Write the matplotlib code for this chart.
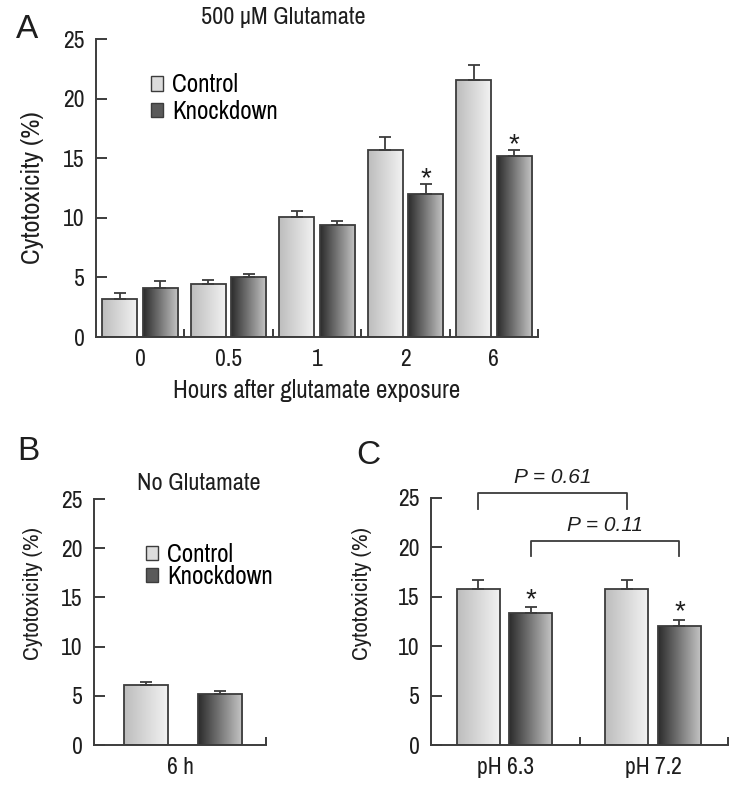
import matplotlib

matplotlib.use("Agg")
import matplotlib.pyplot as plt
import numpy as np
from matplotlib.colors import LinearSegmentedColormap
from matplotlib.patches import Patch

# (A) 500 uM glutamate, time course
a_hours = ["0", "0.5", "1", "2", "6"]
a_control = [3.2, 4.45, 10.1, 15.7, 21.6]
a_control_err = [0.5, 0.3, 0.5, 1.05, 1.25]
a_knockdown = [4.15, 5.0, 9.4, 12.0, 15.2]
a_knockdown_err = [0.55, 0.3, 0.3, 0.85, 0.5]
a_signif = [False, False, False, True, True]

# (B) no glutamate
b_labels = ["6 h"]
b_control = [6.1]
b_control_err = [0.27]
b_knockdown = [5.15]
b_knockdown_err = [0.35]

# (C) pH
c_labels = ["pH 6.3", "pH 7.2"]
c_control = [15.8, 15.8]
c_control_err = [0.9, 0.9]
c_knockdown = [13.4, 12.0]
c_knockdown_err = [0.58, 0.7]
c_signif = [True, True]
c_pvalues = ["P = 0.61", "P = 0.11"]

W, H = 741, 789
AXIS = "#3c3c3c"
TEXT = "#1e1e1e"
# the original uses a narrow Helvetica
plt.rcParams["font.family"] = ["Archivo Narrow", "Liberation Sans", "DejaVu Sans"]
REGULAR = ["Liberation Sans", "DejaVu Sans"]

cmap_ctrl = LinearSegmentedColormap.from_list("ctrl", ["#bdbdbd", "#f3f3f3"])
cmap_kd = LinearSegmentedColormap.from_list("kd", ["#2c2c2c", "#c6c6c6"])
grad = np.linspace(0, 1, 64).reshape(1, -1)


def px_axes(fig, left, right, top, bottom):
    return fig.add_axes([left / W, 1 - bottom / H, (right - left) / W, (bottom - top) / H])


def gradient_bars(ax, x, vals, errs, width, cmap):
    bars = ax.bar(x, vals, width, facecolor="none", edgecolor=AXIS, linewidth=1.3, zorder=3)
    for b in bars:
        x0, w, h = b.get_x(), b.get_width(), b.get_height()
        im = ax.imshow(grad, extent=[x0, x0 + w, 0, h], cmap=cmap, aspect="auto",
                       interpolation="bicubic", zorder=2)
        im.set_clip_path(b)
    ax.errorbar(x, vals, yerr=[np.zeros(len(vals)), errs], fmt="none", ecolor=AXIS,
                elinewidth=1.3, capsize=4.6, capthick=1.3, zorder=4)
    return bars


def style_axes(ax, labels, ylabel_x, ylabel_y, ylabel_size):
    n = len(labels)
    ax.set_xlim(-0.5, n - 0.5)
    ax.set_ylim(0, 25)
    ax.set_yticks(range(0, 26, 5))
    ax.set_xticks(np.arange(n))
    ax.set_xticklabels(labels)
    ax.set_xticks(np.arange(n) + 0.5, minor=True)
    for s in ["top", "right"]:
        ax.spines[s].set_visible(False)
    for s in ["left", "bottom"]:
        ax.spines[s].set_color(AXIS)
        ax.spines[s].set_linewidth(1.4)
    ax.tick_params(axis="y", direction="in", length=8, width=1.4, color=AXIS, pad=8,
                   labelsize=17, labelcolor=TEXT)
    ax.tick_params(axis="x", which="major", length=0, pad=9, labelsize=17, labelcolor=TEXT)
    ax.tick_params(axis="x", which="minor", direction="in", length=6, width=1.4, color=AXIS)
    ax.set_ylabel("Cytotoxicity (%)", fontsize=ylabel_size, color=TEXT)
    ax.yaxis.set_label_coords(ylabel_x, ylabel_y)


def add_stars(ax, x, vals, errs, flags, gap):
    for xi, v, e, f in zip(x, vals, errs, flags):
        if f:
            ax.text(xi, v + e + gap, "*", ha="center", va="center", fontsize=20, color=TEXT,
                    family=REGULAR)


fig = plt.figure(figsize=(W / 100, H / 100), dpi=100)

# ---- Panel A ----
ax = px_axes(fig, 96, 538, 39, 337)
x = np.arange(len(a_hours))
gradient_bars(ax, x - 0.229, a_control, a_control_err, 0.396, cmap_ctrl)
gradient_bars(ax, x + 0.229, a_knockdown, a_knockdown_err, 0.396, cmap_kd)
add_stars(ax, x + 0.229, a_knockdown, a_knockdown_err, a_signif, 0.4)
style_axes(ax, a_hours, -0.118, 0.5, 19)
ax.set_xlabel("Hours after glutamate exposure", fontsize=18, color=TEXT, labelpad=6)
handles = [Patch(facecolor="#dcdcdc", edgecolor=AXIS, linewidth=1.0),
           Patch(facecolor="#5a5a5a", edgecolor=AXIS, linewidth=1.0)]
ax.legend(handles, ["Control", "Knockdown"], loc="upper left", bbox_to_anchor=(0.124, 0.885),
          frameon=False, fontsize=18, handlelength=0.5, handleheight=0.5,
          handletextpad=0.35, labelspacing=0.15, borderpad=0, borderaxespad=0)

# ---- Panel B ----
ax = px_axes(fig, 94, 266, 499, 745)
x = np.arange(len(b_labels))
gradient_bars(ax, x - 0.197, b_control, b_control_err, 0.26, cmap_ctrl)
gradient_bars(ax, x + 0.232, b_knockdown, b_knockdown_err, 0.26, cmap_kd)
style_axes(ax, b_labels, -0.297, 0.614, 16.5)
ax.legend(handles, ["Control", "Knockdown"], loc="upper left", bbox_to_anchor=(0.3, 0.822),
          frameon=False, fontsize=18, handlelength=0.5, handleheight=0.5,
          handletextpad=0.35, labelspacing=-0.05, borderpad=0, borderaxespad=0)

# ---- Panel C ----
ax = px_axes(fig, 431, 728, 498, 745)
x = np.arange(len(c_labels))
xc = x - 0.183
xk = x + 0.173
gradient_bars(ax, xc, c_control, c_control_err, 0.29, cmap_ctrl)
gradient_bars(ax, xk, c_knockdown, c_knockdown_err, 0.29, cmap_kd)
add_stars(ax, xk, c_knockdown, c_knockdown_err, c_signif, 0.7)
style_axes(ax, c_labels, -0.199, 0.614, 16.5)

# comparison brackets
brackets = [(xc[0], xc[1], 25.5, 23.9), (xk[0], xk[1], 20.6, 19.1)]
for (x0, x1, top, leg), label in zip(brackets, c_pvalues):
    ax.plot([x0, x0, x1, x1], [leg, top, top, leg], color=AXIS, lw=1.3, clip_on=False)
    ax.text((x0 + x1) / 2, top + 1.6, label, ha="center", va="center", fontsize=15,
            style="italic", color=TEXT, clip_on=False, family=REGULAR)

# titles and panel letters
fig.text(283 / W, 1 - 18 / H, "500 \u03bcM Glutamate", ha="center", va="center",
         fontsize=17.5, color=TEXT)
fig.text(199 / W, 1 - 483 / H, "No Glutamate", ha="center", va="center", fontsize=17.5,
         color=TEXT)
for lx, ly, letter in [(27.5, 30, "A"), (28, 452, "B"), (368, 455, "C")]:
    fig.text(lx / W, 1 - ly / H, letter, ha="center", va="center", fontsize=24, color=TEXT,
             family=REGULAR)

fig.savefig("out.png", dpi=100)
